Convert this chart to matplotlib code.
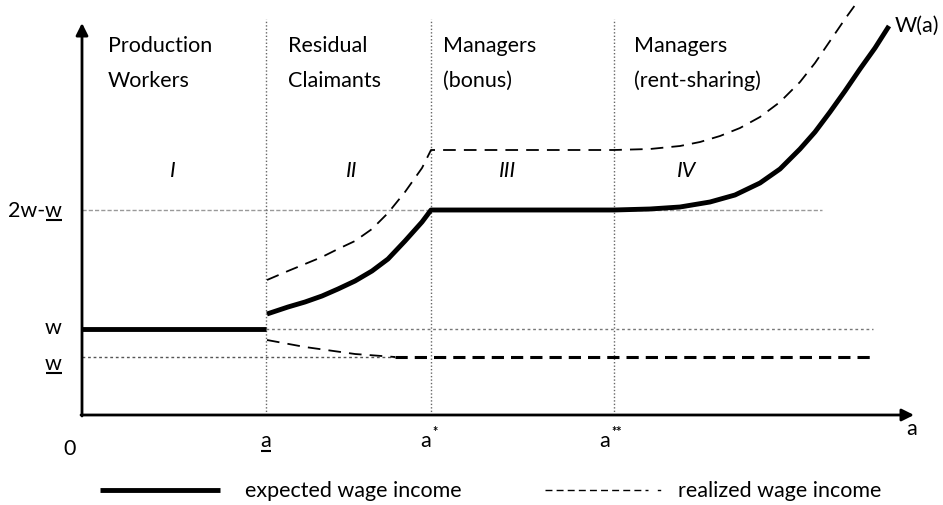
import numpy as np
import matplotlib
matplotlib.use("Agg")
import matplotlib.pyplot as plt

# --- font ---
plt.rcParams['font.family'] = ['Lato', 'DejaVu Sans']

# --- data (schematic units: ability a on x, wage on y) ---
a_low, a_star, a_2star = 18.4, 34.9, 53.2
w_hi, w_mid, w_low = 20.5, 8.6, 5.8       # 2w-w, w, w (underlined)

# expected wage income W(a)
exp1_x = [0.0, a_low]
exp1_y = [w_mid, w_mid]
exp2_x = [18.5, 20.6, 22.3, 24.0, 25.6, 27.3, 29.0, 30.6, 32.3, 34.0, 34.9,
          53.2, 56.8, 59.8, 62.8, 65.3, 67.8, 69.8, 71.8, 73.3, 74.8, 76.3, 77.8, 79.3, 80.7]
exp2_y = [10.1, 10.8, 11.3, 11.9, 12.6, 13.4, 14.4, 15.6, 17.4, 19.3, 20.5,
          20.5, 20.6, 20.8, 21.3, 22.0, 23.2, 24.6, 26.6, 28.3, 30.3, 32.4, 34.6, 36.7, 38.9]

# realized wage income (upper / lower)
up_x = [18.5, 20.6, 22.3, 24.0, 25.6, 27.3, 29.0, 30.6, 32.3, 34.0, 34.9,
        53.2, 56.8, 59.8, 61.8, 63.8, 65.8, 67.8, 69.8, 71.8, 73.3, 74.8, 76.3, 77.6, 77.8]
up_y = [13.5, 14.4, 15.1, 15.8, 16.6, 17.4, 18.6, 20.2, 22.3, 24.7, 26.5,
        26.5, 26.6, 26.9, 27.3, 27.9, 28.7, 29.8, 31.3, 33.3, 35.2, 37.4, 39.6, 41.4, 41.8]
lo_x = [18.5, 22.3, 27.3, 31.3]
lo_y = [7.5, 6.8, 6.1, 5.8]
x_end = 79.1

regions = ["Production\nWorkers", "Residual\nClaimants", "Managers\n(bonus)", "Managers\n(rent-sharing)"]
region_x = [2.6, 20.6, 36.1, 55.2]
roman = ["I", "II", "III", "IV"]
roman_x = [9.1, 27.0, 42.6, 60.5]

fig = plt.figure(figsize=(9.43, 5.06), dpi=100)
ax = fig.add_axes([0, 0, 1, 1])
ax.set_xlim(-8.2, 86.1)
ax.set_ylim(-9.0, 41.6)
ax.axis('off')
renderer = fig.canvas.get_renderer()
fs = 15.5


def underline(t, y_line):
    # bar below a text object (mathtext has no \underline)
    bb = t.get_window_extent(renderer).transformed(ax.transData.inverted())
    ax.plot([bb.x0 + 0.05, bb.x1 - 0.05], [y_line, y_line], color='black', lw=1.5,
            solid_capstyle='butt')
    return bb


# reference lines
ax.plot([0, 74.0], [w_hi, w_hi], color='#999999', lw=1, ls=(0, (3, 1.5)))
ax.plot([a_low, x_end], [w_mid, w_mid], color='#777777', lw=1, ls=(0, (2, 2)))
ax.plot([0, lo_x[-1]], [w_low, w_low], color='#555555', lw=1, ls=(0, (2, 2)))
for xv in [a_low, a_star, a_2star]:
    ax.plot([xv, xv], [0, 39.6], color='#666666', lw=1, ls=(0, (1, 1.5)))

# axes with arrows
ax.annotate('', xy=(0, 39.2), xytext=(0, -0.1),
            arrowprops=dict(arrowstyle='-|>', color='black', lw=2, mutation_scale=18, shrinkA=0, shrinkB=0))
ax.annotate('', xy=(83.2, 0), xytext=(-0.1, 0),
            arrowprops=dict(arrowstyle='-|>', color='black', lw=2, mutation_scale=18, shrinkA=0, shrinkB=0))

# curves
ax.plot(exp1_x, exp1_y, color='black', lw=3.5, solid_capstyle='butt')
ax.plot(exp2_x, exp2_y, color='black', lw=3.5, solid_capstyle='butt', solid_joinstyle='round')
ax.plot(up_x, up_y, color='black', lw=1.3, ls=(0, (7, 4.5)))
ax.plot(lo_x, lo_y, color='black', lw=1.3, ls=(0, (7, 4.5)))
ax.plot([lo_x[-1], x_end], [w_low, w_low], color='black', lw=2.2, ls=(0, (4, 2.3)))

# region labels
for txt, xv in zip(regions, region_x):
    l1, l2 = txt.split("\n")
    ax.text(xv, 36.4, l1, fontsize=fs, ha='left', va='baseline')
    ax.text(xv, 32.9, l2, fontsize=fs, ha='left', va='baseline')
for txt, xv in zip(roman, roman_x):
    ax.text(xv, 23.9, txt, fontsize=fs, ha='center', va='baseline', style='italic')

ax.text(81.3, 38.4, "W(a)", fontsize=fs, ha='left', va='baseline')

# y-axis labels
t = ax.text(-2.0, 19.9, "w", fontsize=fs, ha='right', va='baseline')
bb = underline(t, 19.5)
ax.text(bb.x0, 19.9, "2w-", fontsize=fs, ha='right', va='baseline')
ax.text(-2.0, 8.2, "w", fontsize=fs, ha='right', va='baseline')
underline(ax.text(-2.0, 4.6, "w", fontsize=fs, ha='right', va='baseline'), 4.2)

# x-axis labels
ax.text(-1.2, -3.9, "0", fontsize=fs, ha='center', va='baseline')
underline(ax.text(a_low, -3.1, "a", fontsize=fs, ha='center', va='baseline'), -3.55)
ax.text(a_star - 0.5, -3.1, "a", fontsize=fs, ha='center', va='baseline')
ax.text(a_star + 0.1, -2.0, "*", fontsize=9, ha='left', va='baseline', fontweight='bold')
ax.text(a_2star - 0.9, -3.1, "a", fontsize=fs, ha='center', va='baseline')
ax.text(a_2star - 0.3, -2.0, "**", fontsize=9, ha='left', va='baseline', fontweight='bold')
ax.text(83.0, -1.9, "a", fontsize=fs, ha='center', va='baseline')

# legend
ax.plot([1.8, 13.8], [-7.5, -7.5], color='black', lw=3.5, solid_capstyle='butt')
ax.text(16.3, -8.1, "expected wage income", fontsize=fs, ha='left', va='baseline')
ax.plot([46.3, 56.6], [-7.5, -7.5], color='black', lw=1, ls=(0, (5, 3)))
ax.plot([57.6, 57.8], [-7.5, -7.5], color='black', lw=1)
ax.text(59.6, -8.1, "realized wage income", fontsize=fs, ha='left', va='baseline')

fig.savefig("out.png", dpi=100)
